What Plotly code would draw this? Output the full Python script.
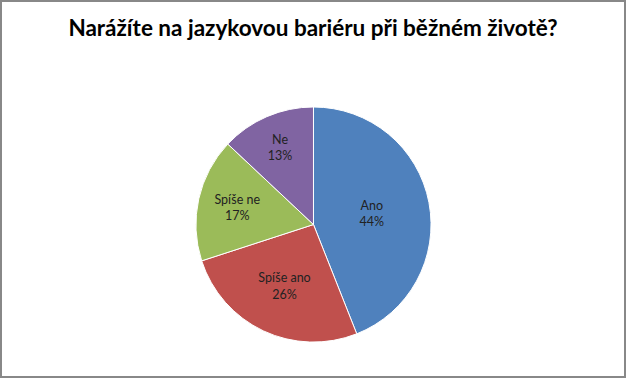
import plotly.graph_objects as go

labels = ["Ano", "Spíše ano", "Spíše ne", "Ne"]
values = [44, 26, 17, 13]
colors = ["#4F81BD", "#C0504D", "#9BBB59", "#8064A2"]
title = "Narážíte na jazykovou bariéru při běžném životě?"

fig = go.Figure(go.Pie(
    labels=labels,
    values=values,
    sort=False,
    direction="clockwise",
    rotation=0,
    marker=dict(colors=colors, line=dict(color="white", width=1)),
    texttemplate="%{label}<br>%{percent:.0%}",
    textposition="inside",
    insidetextorientation="horizontal",
    textfont=dict(family="Lato, Open Sans, sans-serif", size=12.5, color="#222222"),
    domain=dict(x=[0.3115, 0.690], y=[0.095, 0.717]),
    showlegend=False,
    hoverinfo="label+percent",
))

fig.update_layout(
    width=626, height=378,
    margin=dict(l=0, r=0, t=0, b=0),
    paper_bgcolor="white",
    title=dict(text="<b>" + title + "</b>", x=0.5, xanchor="center", y=0.925, yanchor="middle",
               font=dict(family="Lato, Open Sans, sans-serif", size=22.5, color="black")),
    shapes=[dict(type="rect", xref="paper", yref="paper",
                 x0=1 / 626, y0=1 / 378, x1=1 - 1 / 626, y1=1 - 1 / 378,
                 line=dict(color="#888888", width=2))],
)

fig.write_html("out.html", config={"displayModeBar": False},
               post_script="document.body.style.margin='0';document.body.style.overflow='hidden';")
